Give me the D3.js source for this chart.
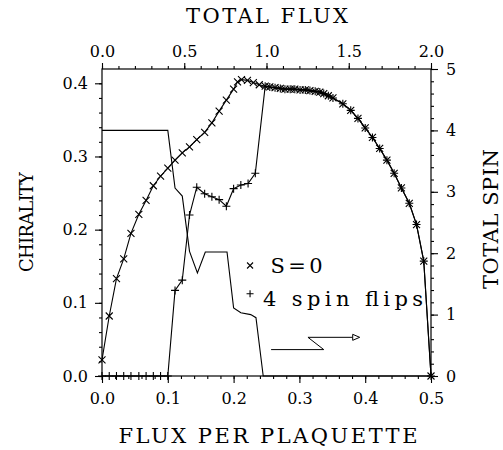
<!DOCTYPE html>
<html>
<head>
<meta charset="utf-8">
<script src="https://cdn.jsdelivr.net/npm/d3@7"></script>
<style>
  body { margin: 0; background: #fff; }
  svg { display: block; }
  text { font-family: "DejaVu Serif", serif; fill: #000; }
</style>
</head>
<body>
<svg id="chart" width="503" height="450"></svg>
<script>
// S=0 chirality (crosses)
const fluxS0 = [0, 0.011, 0.022, 0.033, 0.044, 0.056, 0.067, 0.078, 0.089, 0.1, 0.111, 0.122, 0.133, 0.144, 0.156, 0.167, 0.178, 0.189, 0.2, 0.206, 0.212, 0.221, 0.230, 0.239, 0.248, 0.255, 0.263, 0.271, 0.278, 0.286, 0.293, 0.301, 0.309, 0.316, 0.324, 0.331, 0.337, 0.344, 0.351, 0.366, 0.378, 0.389, 0.4, 0.411, 0.422, 0.433, 0.444, 0.455, 0.467, 0.478, 0.489, 0.5];
const chiralS0 = [0.022, 0.082, 0.133, 0.160, 0.195, 0.221, 0.240, 0.260, 0.273, 0.284, 0.295, 0.305, 0.313, 0.323, 0.333, 0.346, 0.362, 0.377, 0.392, 0.402, 0.405, 0.404, 0.401, 0.398, 0.396, 0.395, 0.394, 0.393, 0.392, 0.392, 0.392, 0.391, 0.391, 0.390, 0.389, 0.388, 0.386, 0.383, 0.380, 0.372, 0.363, 0.352, 0.339, 0.326, 0.311, 0.295, 0.277, 0.257, 0.236, 0.207, 0.157, 0.0];

// 4 spin flips chirality (plus signs), joins the S=0 curve above 0.245
const fluxFlip = [0, 0.011, 0.022, 0.033, 0.044, 0.056, 0.067, 0.078, 0.089, 0.1, 0.111, 0.122, 0.133, 0.144, 0.156, 0.167, 0.178, 0.189, 0.2, 0.211, 0.222, 0.233];
const chiralFlip = [0, 0, 0, 0, 0, 0, 0, 0, 0, 0, 0.117, 0.131, 0.220, 0.258, 0.249, 0.245, 0.241, 0.232, 0.256, 0.261, 0.263, 0.277];

// total spin (plain line, right axis)
const fluxSpin = [0, 0.1, 0.111, 0.122, 0.133, 0.145, 0.157, 0.19, 0.2, 0.211, 0.226, 0.234, 0.245, 0.5];
const totalSpin = [4.0, 4.0, 3.06, 2.93, 2.03, 1.68, 2.02, 2.02, 1.11, 1.03, 1.0, 0.95, 0.0, 0.0];

const svg = d3.select("#chart");

const mLeft = 102, mRight = 431, mTop = 69, mBottom = 376;

const x = d3.scaleLinear().domain([0, 0.5]).range([mLeft, mRight]);
const xTop = d3.scaleLinear().domain([0, 2]).range([mLeft, mRight]);
const yL = d3.scaleLinear().domain([0, 0.4]).range([mBottom, 83.3]);
const yR = d3.scaleLinear().domain([0, 5]).range([mBottom, mTop]);

const s0 = fluxS0.map((f, i) => [f, chiralS0[i]]);
const flip = fluxFlip.map((f, i) => [f, chiralFlip[i]])
    .concat(s0.filter(d => d[0] >= 0.245));
const spin = fluxSpin.map((f, i) => [f, totalSpin[i]]);

// frame
svg.append("rect")
    .attr("x", mLeft).attr("y", mTop)
    .attr("width", mRight - mLeft).attr("height", mBottom - mTop)
    .attr("fill", "none").attr("stroke", "#000").attr("stroke-width", 1.2);

function styleAxis(g) {
    g.select(".domain").remove();
    g.selectAll(".tick line").attr("stroke", "#000").attr("stroke-width", 1.1);
    g.selectAll("text").attr("font-family", "DejaVu Serif").attr("font-size", 16).attr("fill", "#000");
}

// bottom axis
svg.append("g").attr("transform", `translate(0,${mBottom})`)
    .call(d3.axisBottom(x).tickValues(d3.range(0, 0.5001, 0.02)).tickSize(3).tickFormat(""))
    .call(styleAxis);
svg.append("g").attr("transform", `translate(0,${mBottom})`)
    .call(d3.axisBottom(x).tickValues([0, 0.1, 0.2, 0.3, 0.4, 0.5]).tickSize(7).tickPadding(10).tickFormat(d3.format(".1f")))
    .call(styleAxis);

// top axis
svg.append("g").attr("transform", `translate(0,${mTop})`)
    .call(d3.axisTop(xTop).tickValues(d3.range(0, 2.001, 0.1)).tickSize(3).tickFormat(""))
    .call(styleAxis);
svg.append("g").attr("transform", `translate(0,${mTop})`)
    .call(d3.axisTop(xTop).tickValues([0, 0.5, 1, 1.5, 2]).tickSize(6).tickPadding(6).tickFormat(d3.format(".1f")))
    .call(styleAxis);

// left axis
svg.append("g").attr("transform", `translate(${mLeft},0)`)
    .call(d3.axisLeft(yL).tickValues(d3.range(0, 0.4101, 0.02)).tickSize(3).tickFormat(""))
    .call(styleAxis);
svg.append("g").attr("transform", `translate(${mLeft},0)`)
    .call(d3.axisLeft(yL).tickValues([0, 0.1, 0.2, 0.3, 0.4]).tickSize(7).tickPadding(7).tickFormat(d3.format(".1f")))
    .call(styleAxis);

// right axis
svg.append("g").attr("transform", `translate(${mRight},0)`)
    .call(d3.axisRight(yR).tickValues(d3.range(0, 5.001, 0.2)).tickSize(3).tickFormat(""))
    .call(styleAxis);
svg.append("g").attr("transform", `translate(${mRight},0)`)
    .call(d3.axisRight(yR).tickValues([0, 1, 2, 3, 4, 5]).tickSize(7).tickPadding(8).tickFormat(d3.format("d")))
    .call(styleAxis);

// axis titles
svg.append("text").attr("x", 267).attr("y", 23).attr("text-anchor", "middle")
    .attr("font-size", 21).attr("textLength", 162).attr("lengthAdjust", "spacing")
    .text("TOTAL FLUX");
svg.append("text").attr("x", 268).attr("y", 443).attr("text-anchor", "middle")
    .attr("font-size", 21).attr("textLength", 299).attr("lengthAdjust", "spacing")
    .text("FLUX PER PLAQUETTE");
svg.append("text").attr("transform", "translate(33,222) rotate(-90)").attr("text-anchor", "middle")
    .attr("font-size", 18).attr("textLength", 100).attr("lengthAdjust", "spacing")
    .text("CHIRALITY");
svg.append("text").attr("transform", "translate(498,219) rotate(-90)").attr("text-anchor", "middle")
    .attr("font-size", 21).attr("textLength", 140).attr("lengthAdjust", "spacing")
    .text("TOTAL SPIN");

// lines
const lineL = d3.line().x(d => x(d[0])).y(d => yL(d[1]));
const lineR = d3.line().x(d => x(d[0])).y(d => yR(d[1]));

svg.append("path").attr("d", lineR(spin))
    .attr("fill", "none").attr("stroke", "#000").attr("stroke-width", 1.1);
svg.append("path").attr("d", lineL(flip))
    .attr("fill", "none").attr("stroke", "#000").attr("stroke-width", 1.1);
svg.append("path").attr("d", lineL(s0))
    .attr("fill", "none").attr("stroke", "#000").attr("stroke-width", 1.1);

const crossPath = "M-3.5,-3.5L3.5,3.5M-3.5,3.5L3.5,-3.5";
const plusPath = "M-4,0H4M0,-4V4";

svg.append("g").selectAll("path").data(s0).join("path")
    .attr("transform", d => `translate(${x(d[0])},${yL(d[1])})`)
    .attr("d", crossPath).attr("stroke", "#000").attr("stroke-width", 1.1).attr("fill", "none");
svg.append("g").selectAll("path").data(flip).join("path")
    .attr("transform", d => `translate(${x(d[0])},${yL(d[1])})`)
    .attr("d", plusPath).attr("stroke", "#000").attr("stroke-width", 1.1).attr("fill", "none");

// legend
svg.append("path").attr("transform", `translate(${x(0.225)},${yL(0.151)})`)
    .attr("d", "M-3,-3L3,3M-3,3L3,-3").attr("stroke", "#000").attr("stroke-width", 1.1);
svg.append("text").attr("x", x(0.2562)).attr("y", yL(0.1405))
    .attr("font-size", 21).attr("textLength", 52).attr("lengthAdjust", "spacing")
    .text("S=0");
svg.append("path").attr("transform", `translate(${x(0.225)},${yL(0.1125)})`)
    .attr("d", "M-3.5,0H3.5M0,-3.5V3.5").attr("stroke", "#000").attr("stroke-width", 1.1);
svg.append("text").attr("x", x(0.2447)).attr("y", yL(0.0955))
    .attr("font-size", 21).attr("textLength", 160).attr("lengthAdjust", "spacing")
    .text("4 spin flips");

// arrow pointing to right axis
const arrowPts = [[0.257, 0.43], [0.337, 0.43], [0.313, 0.63], [0.381, 0.63]];
svg.append("path").attr("d", lineR(arrowPts))
    .attr("fill", "none").attr("stroke", "#000").attr("stroke-width", 1);
const ax = x(0.381), ay = yR(0.63);
svg.append("path").attr("d", `M${ax},${ay - 3}L${ax + 7},${ay}L${ax},${ay + 3}Z`)
    .attr("fill", "#fff").attr("stroke", "#000").attr("stroke-width", 1);
</script>
</body>
</html>
